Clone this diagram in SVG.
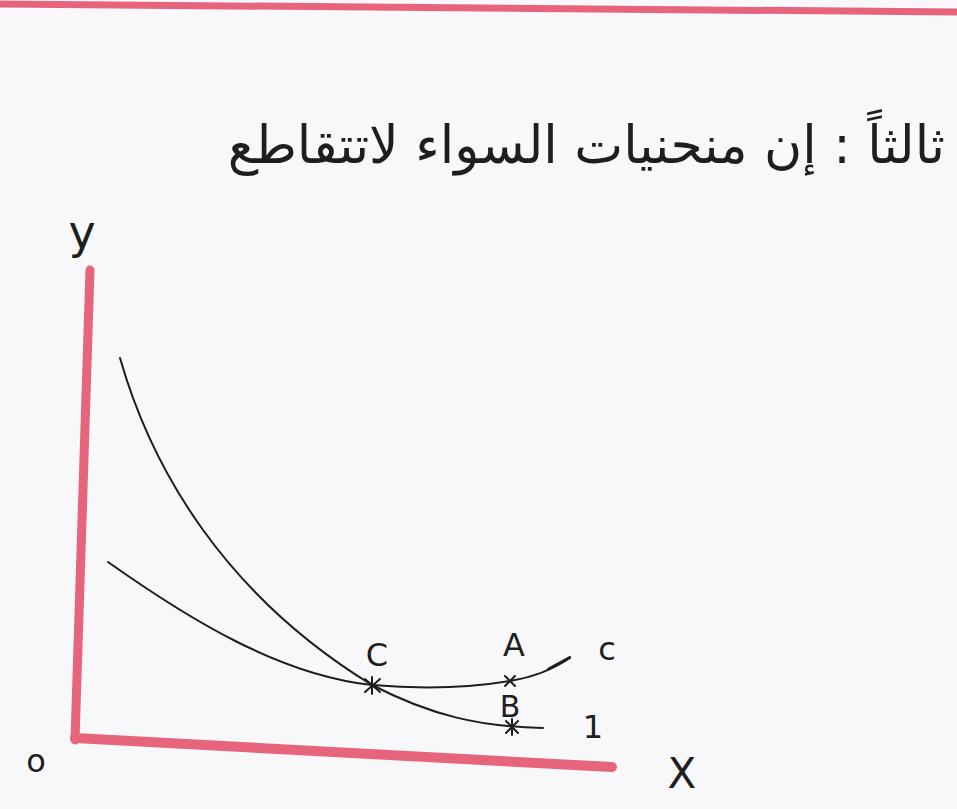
<svg xmlns="http://www.w3.org/2000/svg" width="957" height="809" viewBox="0 0 957 809">
<style>
.axis{stroke:#e6647c;stroke-linecap:round;fill:none}
.curve{stroke:#1e1e1e;stroke-width:2;fill:none;stroke-linecap:round}
.mark{stroke:#1e1e1e;stroke-width:2;fill:none;stroke-linecap:round}
.lbl{font-family:"DejaVu Sans",sans-serif;fill:#1e1e1e}
</style>
<rect width="957" height="809" fill="#f8f8fa"/>
<g id="top-rule"><path class="axis" d="M0 4 L957 12" stroke-width="7"/></g>
<g id="title"><text class="lbl" x="945" y="163" font-size="52" text-anchor="end">ثالثاً : إن منحنيات السواء لاتتقاطع</text></g>
<g id="y-axis"><path class="axis" d="M90 270 L75 740" stroke-width="9"/><text class="lbl" x="82" y="248" font-size="46" text-anchor="middle">y</text></g>
<g id="x-axis"><path class="axis" d="M75 738 L612 767" stroke-width="10"/><text class="lbl" x="682" y="788" font-size="42" text-anchor="middle">X</text></g>
<g id="origin"><text class="lbl" x="36" y="772" font-size="32" text-anchor="middle">o</text></g>
<g id="connectors">
<path id="curve-1" class="curve" d="M120 358 C152 470 225 595 372 685 C430 715 480 727 543 728"/>
<path id="curve-2" class="curve" d="M108 562 C190 620 280 675 372 685 C430 690 480 686 510 681 C535 677 555 668 570 658"/>
<path class="curve" d="M548 669 L570 657" stroke-width="5"/>
</g>
<g id="point-C"><path class="mark" d="M365 679 L380 692 M380 679 L365 692 M372 677 L372 694"/><text class="lbl" x="377" y="666" font-size="32" text-anchor="middle">C</text></g>
<g id="point-A"><path class="mark" d="M505 676 L515 686 M515 676 L505 686"/><text class="lbl" x="514" y="656" font-size="32" text-anchor="middle">A</text></g>
<g id="point-B"><path class="mark" d="M506 721 L518 733 M518 721 L506 733 M512 719 L512 735"/><text class="lbl" x="510" y="717" font-size="30" text-anchor="middle">B</text></g>
<g id="label-1"><text class="lbl" x="593" y="738" font-size="32" text-anchor="middle">1</text></g>
<g id="label-c"><text class="lbl" x="607" y="660" font-size="32" text-anchor="middle">c</text></g>
</svg>
